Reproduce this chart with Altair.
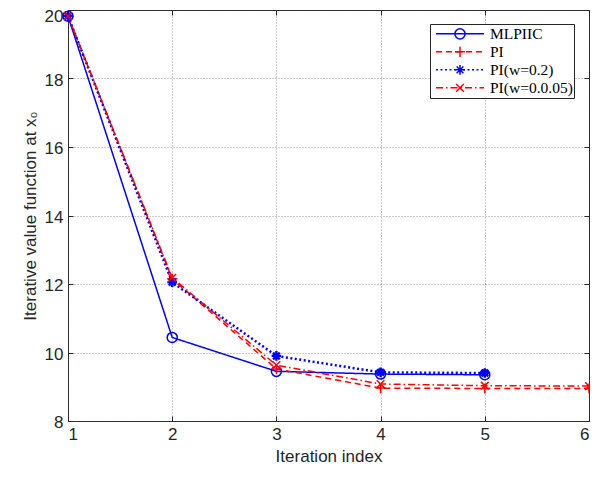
import altair as alt
import pandas as pd

# ---- data ----
series_names = ["MLPIIC", "PI", "PI(w=0.2)", "PI(w=0.0.05)"]
iters_mlpiic = [1, 2, 3, 4, 5]
vals_mlpiic = [19.82, 10.44, 9.45, 9.37, 9.35]
iters_pi = [1, 2, 3, 4, 5, 6]
vals_pi = [19.82, 12.15, 9.52, 8.96, 8.95, 8.95]
iters_w02 = [1, 2, 3, 4, 5]
vals_w02 = [19.82, 12.05, 9.90, 9.42, 9.40]
iters_w005 = [1, 2, 3, 4, 5, 6]
vals_w005 = [19.82, 12.18, 9.63, 9.08, 9.03, 9.02]

x_ticks = [1, 2, 3, 4, 5, 6]
y_ticks = [8, 10, 12, 14, 16, 18, 20]

# ---- styles ----
colors = ["#0000ff", "#ff0000", "#0000ff", "#ff0000"]
dashes = [[1, 0], [6, 4], [2, 2.5], [7, 3, 1.5, 3]]
widths = [1.5, 1.5, 2.5, 1.5]
marker_paths = [
    "M-0.21,0A0.21,0.21 0 1,1 0.21,0A0.21,0.21 0 1,1 -0.21,0Z",
    "M-0.21,0H0.21M0,-0.21V0.21",
    "M-0.2,0H0.2M0,-0.2V0.2M-0.14,-0.14L0.14,0.14M-0.14,0.14L0.14,-0.14",
    "M-0.16,-0.16L0.16,0.16M-0.16,0.16L0.16,-0.16",
]
marker_widths = [1.5, 1.5, 2.4, 1.5]
SYM = 2304
W, H = 521, 411

rows = []
for name, xs, ys in zip(series_names,
                        [iters_mlpiic, iters_pi, iters_w02, iters_w005],
                        [vals_mlpiic, vals_pi, vals_w02, vals_w005]):
    for xv, yv in zip(xs, ys):
        rows.append({"series": name, "series2": name, "it": xv, "val": yv})
df = pd.DataFrame(rows)

# colour expression for legend symbols (built from the lists above)
color_expr = "'" + colors[-1] + "'"
for name, col in reversed(list(zip(series_names[:-1], colors[:-1]))):
    color_expr = f"datum.value === '{name}' ? '{col}' : ({color_expr})"

base = alt.Chart(df)

xscale = alt.Scale(domain=[1, 6], nice=False, zero=False)
yscale = alt.Scale(domain=[8, 20], nice=False, zero=False)

axis_common = dict(
    domain=False, tickColor="#262626", tickWidth=1, labelColor="#262626",
    labelFont="Liberation Sans", labelFontSize=17, titleFont="Liberation Sans",
    titleFontSize=17, titleFontWeight="normal", titleColor="#262626",
    gridColor="#555555", gridOpacity=0.6, gridDash=[1, 2], gridWidth=1,
)

def tick_axis(orient, values, offset):
    return alt.Axis(orient=orient, values=values, labels=False, tickSize=5,
                    grid=False, title=None, offset=offset, **axis_common)

legend_common = dict(
    orient="none", legendX=362, legendY=14, padding=1, symbolOffset=4,
    labelOffset=5, clipHeight=17.7, symbolSize=SYM, labelFont="Liberation Serif",
    labelFontSize=15.5, labelColor="#000000", rowPadding=0,
    title="\u2003", titleOrient="right", titleFontSize=4, titleOpacity=0,
    titlePadding=0, symbolStrokeColor={"expr": color_expr},
)

lines = base.mark_line().encode(
    x=alt.X("it:Q", scale=xscale, axis=alt.Axis(
        orient="bottom", values=x_ticks, format="d", ticks=False, labelPadding=5,
        grid=True, title="Iteration index", titlePadding=6, **axis_common)),
    y=alt.Y("val:Q", scale=yscale, axis=alt.Axis(
        orient="left", values=y_ticks, format="d", ticks=False, labelPadding=5,
        labelOffset={"condition": {"test": "datum.value == 20", "value": 6.5}, "value": 1.5},
        grid=True, title="Iterative value function at x\u2080", titlePadding=5,
        **axis_common)),
    color=alt.Color("series:N", sort=series_names,
                    scale=alt.Scale(range=colors), legend=None),
    strokeDash=alt.StrokeDash("series:N", sort=series_names,
                              scale=alt.Scale(range=dashes),
                              legend=alt.Legend(symbolType="stroke", strokeColor="#262626",
                                                fillColor="white", symbolStrokeWidth=1.5,
                                                **legend_common)),
    strokeWidth=alt.StrokeWidth("series:N", sort=series_names,
                                scale=alt.Scale(type="ordinal", range=widths),
                                legend=None),
)

points = base.mark_point(filled=False, opacity=1).encode(
    x=alt.X("it:Q", scale=xscale, axis=tick_axis("top", x_ticks, -H)),
    y=alt.Y("val:Q", scale=yscale, axis=tick_axis("left", y_ticks, -W)),
    color=alt.Color("series2:N", sort=series_names,
                    scale=alt.Scale(range=colors), legend=None),
    shape=alt.Shape("series2:N", sort=series_names,
                    scale=alt.Scale(range=marker_paths),
                    legend=alt.Legend(symbolStrokeWidth=1.5, labelOpacity=0,
                                      symbolFillColor="transparent",
                                      **legend_common)),
    strokeWidth=alt.StrokeWidth("series2:N", sort=series_names,
                                scale=alt.Scale(type="ordinal", range=marker_widths),
                                legend=None),
    size=alt.value(SYM),
)

ticks_layer = base.mark_point(opacity=0).encode(
    x=alt.X("it:Q", scale=xscale, axis=tick_axis("bottom", x_ticks, -H)),
    y=alt.Y("val:Q", scale=yscale, axis=tick_axis("right", y_ticks, -W)),
)

chart = alt.layer(lines, points, ticks_layer).resolve_scale(
    color="independent", strokeWidth="independent"
).resolve_legend(
    strokeDash="independent", shape="independent"
).resolve_axis(x="independent", y="independent").properties(
    width=W, height=H, autosize=alt.AutoSizeParams(type="none"),
    padding={"left": 60, "top": 2, "right": 1, "bottom": 48},
    background="white",
).configure_view(stroke="#262626", strokeWidth=1)

chart.save("out.html", embed_options={"renderer": "svg", "actions": False})
